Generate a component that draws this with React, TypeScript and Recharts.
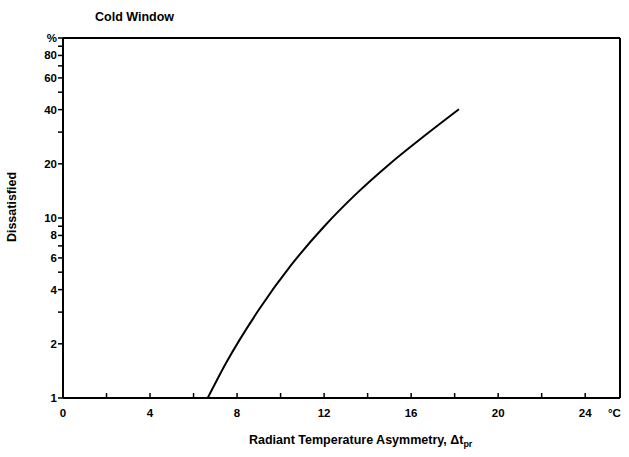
import React from "react";
import { LineChart, Line, XAxis, YAxis, ReferenceLine, Label } from "recharts";

const asymmetry = [6.65, 7.5, 9, 10.5, 12, 13.5, 15, 16.5, 18.2];
const dissatisfied = [1, 1.57, 3.09, 5.5, 8.97, 13.7, 19.9, 27.9, 40.2];

const xTicks = [0, 2, 4, 6, 8, 10, 12, 14, 16, 18, 20, 22, 24];
const xLabeled = [0, 4, 8, 12, 16, 20, 24];
const yTicks = [1, 2, 3, 4, 5, 6, 7, 8, 9, 10, 20, 30, 40, 50, 60, 70, 80, 90, 100];
const yLabeled = [1, 2, 4, 6, 8, 10, 20, 40, 60, 80, 100];

const data = asymmetry.map((t, i) => ({ t, p: dissatisfied[i] }));

const FONT = "'Liberation Sans', Arial, sans-serif";

const XTick = (props: any) => {
  const { x, y, payload } = props;
  return (
    <g>
      <line x1={x} x2={x} y1={y} y2={y - 5} stroke="#000" strokeWidth={1.5} />
      {xLabeled.includes(payload.value) && (
        <text x={x} y={y + 19} textAnchor="middle" fontSize={11.5} fontWeight="bold" fontFamily={FONT} fill="#000">
          {payload.value}
        </text>
      )}
    </g>
  );
};

const YTick = (props: any) => {
  const { x, y, payload } = props;
  const v = payload.value;
  return (
    <g>
      <line x1={x - 5} x2={x} y1={y} y2={y} stroke="#000" strokeWidth={1.5} />
      {yLabeled.includes(v) && (
        <text x={x - 6} y={y + 4} textAnchor="end" fontSize={11.5} fontWeight="bold" fontFamily={FONT} fill="#000">
          {v === 100 ? "%" : v}
        </text>
      )}
    </g>
  );
};

const Texts = () => (
  <g>
    <text x={95} y={21} fill="#000" fontFamily={FONT} fontWeight="bold" fontSize={12.5}>Cold Window</text>
    <text x={608} y={417} fill="#000" fontFamily={FONT} fontWeight="bold" fontSize={11.5}>°C</text>
    <text x={249} y={444} fill="#000" fontFamily={FONT} fontWeight="bold" fontSize={12.5}>
      Radiant Temperature Asymmetry, Δt
      <tspan fontSize={9} dy={3}>pr</tspan>
    </text>
    <text x={16} y={207} fill="#000" fontFamily={FONT} fontWeight="bold" fontSize={12.5} textAnchor="middle" transform="rotate(-90 16 207)">
      Dissatisfied
    </text>
  </g>
);

const App: React.FC = () => {
  return (
    <div style={{ position: "absolute", left: 0, top: 0, width: 629, height: 457, background: "#fff" }}>
      <LineChart width={629} height={457} data={data} margin={{ top: 38, right: 9, bottom: 29, left: 0 }}>
        <XAxis
          dataKey="t"
          type="number"
          domain={[0, 25.6]}
          ticks={xTicks}
          interval={0}
          allowDataOverflow
          height={30}
          tickSize={0}
          tickMargin={0}
          tick={<XTick />}
          axisLine={{ stroke: "#000", strokeWidth: 2 }}
          tickLine={false}
        >
          <Label content={() => <Texts />} />
        </XAxis>
        <YAxis
          type="number"
          scale="log"
          domain={[1, 100]}
          ticks={yTicks}
          interval={0}
          allowDataOverflow
          width={63}
          tickSize={0}
          tickMargin={0}
          tick={<YTick />}
          axisLine={{ stroke: "#000", strokeWidth: 2 }}
          tickLine={false}
        />
        <ReferenceLine y={100} stroke="#000" strokeWidth={2} />
        <ReferenceLine x={25.6} stroke="#000" strokeWidth={2} />
        <Line
          type="monotone"
          dataKey="p"
          stroke="#000"
          strokeWidth={2}
          dot={false}
          isAnimationActive={false}
        />
      </LineChart>
    </div>
  );
};

export default App;
